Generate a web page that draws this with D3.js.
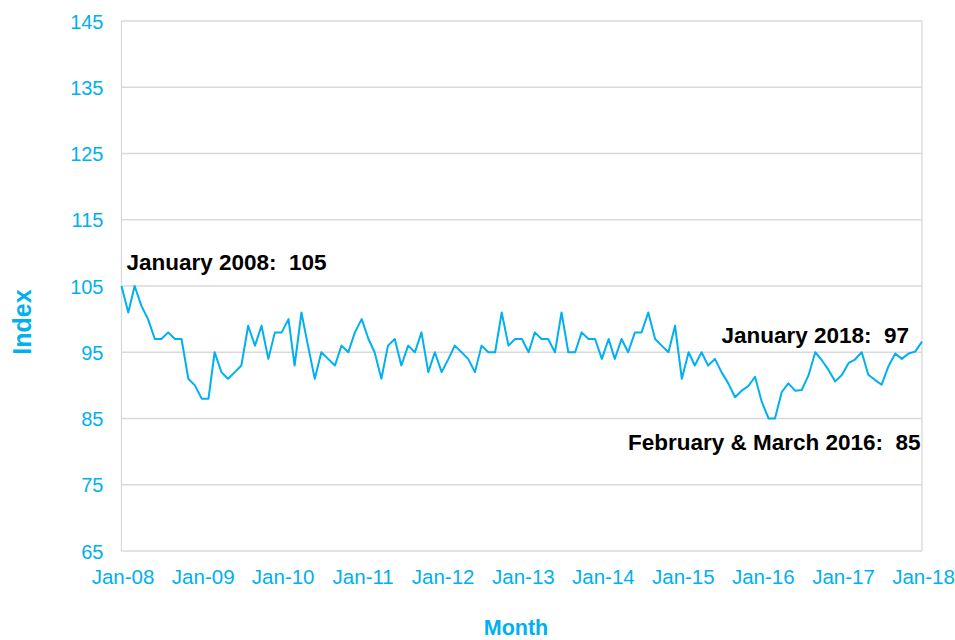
<!DOCTYPE html>
<html>
<head>
<meta charset="utf-8">
<script src="https://cdn.jsdelivr.net/npm/d3@7"></script>
<style>
  html, body { margin: 0; padding: 0; background: #fff; }
  svg { display: block; }
  text { font-family: "Liberation Sans", Arial, sans-serif; }
</style>
</head>
<body>
<svg id="chart" width="955" height="640"></svg>
<script>
// ---- Data ----
const startYear = 2008;
const values = [
  105,101,105,102,100,97,97,98,97,97,91,90,
  88,88,95,92,91,92,93,99,96,99,94,98,
  98,100,93,101,96,91,95,94,93,96,95,98,
  100,97,95,91,96,97,93,96,95,98,92,95,
  92,94,96,95,94,92,96,95,95,101,96,97,
  97,95,98,97,97,95,101,95,95,98,97,97,
  94,97,94,97,95,98,98,101,97,96,95,99,
  91,95,93,95,93,94,92,90.3,88.2,89.2,89.9,91.3,
  87.5,85,85,89,90.3,89.2,89.3,91.5,95,93.8,92.3,90.6,
  91.6,93.4,93.9,95,91.6,90.8,90.1,92.9,94.8,94.0,94.8,95.1,
  96.6
];
const yTicks = [65, 75, 85, 95, 105, 115, 125, 135, 145];
const xTickLabels = ["Jan-08","Jan-09","Jan-10","Jan-11","Jan-12","Jan-13","Jan-14","Jan-15","Jan-16","Jan-17","Jan-18"];
const annotations = [
  { text: "January 2008:  105", month: 0, value: 105 },
  { text: "January 2018:  97", month: 120, value: 97 },
  { text: "February & March 2016:  85", month: 97, value: 85 }
];
const xTitle = "Month";
const yTitle = "Index";

// ---- Build ----
const dates = values.map((v, i) => new Date(startYear, i, 1));
const data = values.map((v, i) => ({ date: dates[i], value: v }));
const blue = "#00B0F0";
const gridColor = "#d9d9d9";

const svg = d3.select("#chart");
const pL = 121.5, pR = 922, pT = 21, pB = 551;

const x = d3.scaleTime()
  .domain([new Date(startYear, 0, 1), new Date(startYear + 10, 0, 1)])
  .range([pL, pR]);
const y = d3.scaleLinear().domain([65, 145]).range([pB, pT]);

// gridlines
svg.append("g").selectAll("line").data(yTicks).join("line")
  .attr("x1", pL).attr("x2", pR)
  .attr("y1", d => y(d)).attr("y2", d => y(d))
  .attr("stroke", gridColor).attr("stroke-width", 1.3);
// side borders
[pL, pR].forEach(xx => svg.append("line")
  .attr("x1", xx).attr("x2", xx).attr("y1", pT).attr("y2", pB)
  .attr("stroke", gridColor).attr("stroke-width", 1.3));

// y axis
const yAxis = d3.axisLeft(y).tickValues(yTicks).tickSize(0).tickPadding(18);
const gy = svg.append("g").attr("transform", `translate(${pL},0)`).call(yAxis);
gy.select(".domain").remove();
gy.selectAll("text").attr("fill", blue).style("font-size", "20px")
  .attr("dy", "0.36em");

// x axis
const xTickVals = xTickLabels.map((l, i) => new Date(startYear + i, 0, 1));
const xAxis = d3.axisBottom(x).tickValues(xTickVals).tickSize(0).tickPadding(18)
  .tickFormat((d, i) => xTickLabels[i]);
const gx = svg.append("g").attr("transform", `translate(0,${pB})`).call(xAxis);
gx.select(".domain").remove();
gx.selectAll("text").attr("fill", blue).style("font-size", "20.5px")
  .attr("dx", "1").attr("dy", "0.71em");

// line
const line = d3.line().x(d => x(d.date)).y(d => y(d.value));
svg.append("path").datum(data)
  .attr("d", line).attr("fill", "none")
  .attr("stroke", blue).attr("stroke-width", 2).attr("stroke-linejoin", "round");

// titles
svg.append("text").attr("x", 516).attr("y", 635).attr("text-anchor", "middle")
  .attr("fill", blue).style("font-size", "21.5px").style("font-weight", "bold").text(xTitle);
svg.append("text").attr("transform", "translate(31,322) rotate(-90)").attr("text-anchor", "middle")
  .attr("fill", blue).style("font-size", "25px").style("font-weight", "bold").text(yTitle);

// annotations
const annPos = [
  { dx: 5, dy: -16, anchor: "start" },
  { dx: -13, dy: 4, anchor: "end" },
  { dx: 152, dy: 31, anchor: "end" }
];
annotations.forEach((a, i) => {
  const p = annPos[i];
  svg.append("text")
    .attr("x", x(new Date(startYear, a.month, 1)) + p.dx)
    .attr("y", y(a.value) + p.dy)
    .attr("text-anchor", p.anchor)
    .attr("fill", "#000").style("font-size", "22.5px").style("font-weight", "bold")
    .style("white-space", "pre")
    .text(a.text);
});
</script>
</body>
</html>
